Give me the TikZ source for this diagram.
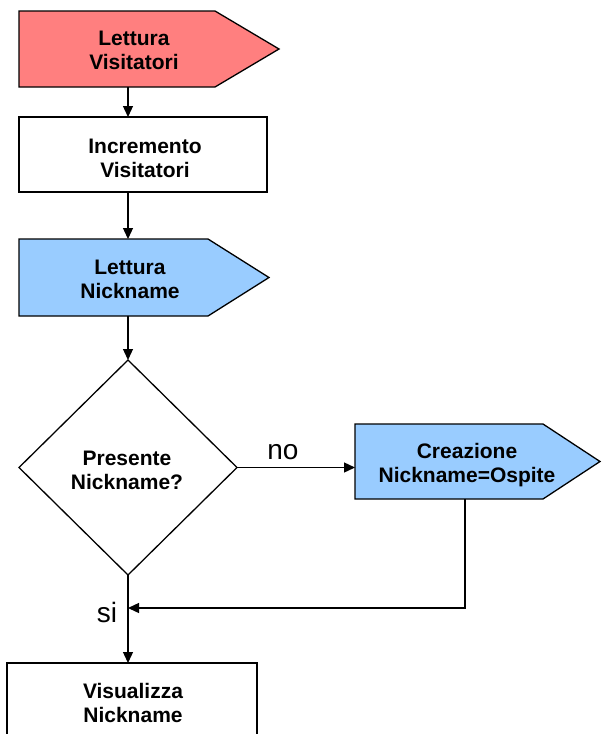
\documentclass[tikz,border=0pt]{standalone}
\usepackage{fontspec}
\setmainfont{Liberation Sans}
\usetikzlibrary{arrows.meta,calc,shapes.geometric}
\definecolor{readred}{HTML}{FF7F7F}
\definecolor{readblue}{HTML}{99CCFF}
\begin{document}
\begin{tikzpicture}[x=1pt,y=-1pt,
  txt/.style={font=\fontsize{21}{24}\selectfont\bfseries, align=center, inner sep=0pt},
  body/.style={rectangle, inner sep=0pt, outer sep=0pt, anchor=north west},
  box/.style={body, draw, line width=1.3pt, fill=white},
  outline/.style={draw=black, line width=1.3pt, line join=miter},
  edge/.style={line width=1.3pt},
  arr/.style={edge, -{Triangle[length=11pt,width=10pt]}},
  branch/.style={font=\fontsize{28}{30}\selectfont, inner sep=0pt}]
\useasboundingbox (0,0) rectangle (602,734);
\clip (0,0) rectangle (602,734);

% rectangular bodies of the input shapes (the pointer is added below)
\node[body, minimum width=196pt, minimum height=76pt] (lv) at (19,11) {};
\node[body, minimum width=189pt, minimum height=77pt] (ln) at (19,239) {};
\node[body, minimum width=188pt, minimum height=75pt] (cn) at (355,424) {};

\draw[outline, fill=readred] (lv.north west) -- (lv.north east) -- ($(lv.east)+(64,0)$)
  -- (lv.south east) -- (lv.south west) -- cycle;
\draw[outline, fill=readblue] (ln.north west) -- (ln.north east) -- ($(ln.east)+(61,0)$)
  -- (ln.south east) -- (ln.south west) -- cycle;
\draw[outline, fill=readblue] (cn.north west) -- (cn.north east) -- ($(cn.east)+(57,0)$)
  -- (cn.south east) -- (cn.south west) -- cycle;

\node[txt] at (134,50) {Lettura\\Visitatori};
\node[txt] at (130,279) {Lettura\\Nickname};
\node[txt] at (467,465) {Creazione\\Nickname=Ospite};

% process boxes
\node[box, minimum width=248pt, minimum height=75pt] (iv) at (19,117) {};
\node[txt] at (145,158) {Incremento\\Visitatori};
\node[box, minimum width=250pt, minimum height=76pt] (vn) at (7,663) {};
\node[txt] at (133,703) {Visualizza\\Nickname};

% decision
\node[diamond, draw, line width=1.3pt, minimum width=218pt, minimum height=215pt,
  inner sep=0pt, outer sep=0pt] (dec) at (128,467.5) {};
\node[txt] at (127,470) {Presente\\Nickname?};

% connectors
\draw[arr] (lv.south -| dec.north) -- (iv.north -| dec.north);
\draw[arr] (iv.south -| dec.north) -- (ln.north -| dec.north);
\draw[arr] (ln.south -| dec.north) -- (dec.north);
\draw[arr] (dec.east) -- (dec.east -| cn.west);
\coordinate (cnout) at ($(cn.south west)+(110,0)$);
\coordinate (merge) at (dec.south |- 0,608);
\draw[arr] (cnout) |- (merge);
\draw[arr] (dec.south) -- (vn.north -| dec.south);

% branch labels
\node[branch] at (283,452) {no};
\node[branch] at (107,612) {si};
\end{tikzpicture}
\end{document}
